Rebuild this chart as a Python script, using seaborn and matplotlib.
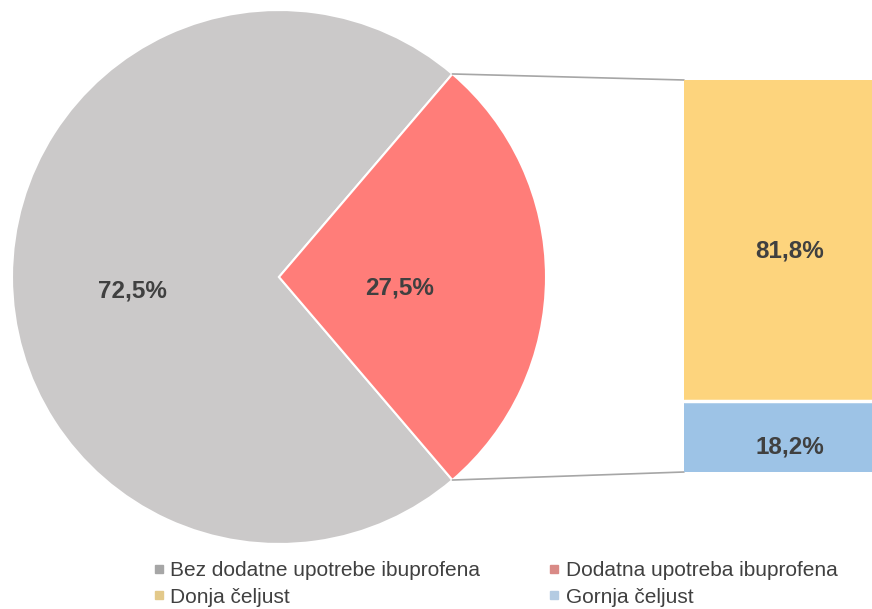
import numpy as np
import matplotlib
matplotlib.use("Agg")
import matplotlib.pyplot as plt
from matplotlib.lines import Line2D
import seaborn as sns

# ── Data ──────────────────────────────────────────────────────────────────────
pie_labels = ["Bez dodatne upotrebe ibuprofena", "Dodatna upotreba ibuprofena"]
pie_values = [72.5, 27.5]
bar_labels = ["Donja čeljust", "Gornja čeljust"]
bar_values = [81.8, 18.2]

# ── Style ─────────────────────────────────────────────────────────────────────
sns.set_style("white")
plt.rcParams["font.family"] = ["Liberation Sans", "DejaVu Sans"]

slice_colors = ["#cbc9c9", "#ff7d79"]
bar_colors = ["#fdd47d", "#9dc3e6"]
legend_colors = ["#a6a6a6", "#d98a86", "#e3c98a", "#b4cbe2"]
text_color = "#404040"

W, H = 872, 609
center = (279, 277)
radius = 267
bar_left, bar_top, bar_bottom, bar_w = 684, 80, 472, 212

fig = plt.figure(figsize=(W / 100, H / 100), dpi=100)
ax = fig.add_axes([0, 0, 1, 1])

# pie: red slice centred on the right-hand side
half = pie_values[1] / 100 * 360 / 2
wedges, _ = ax.pie(
    pie_values, colors=slice_colors, startangle=half, center=center, radius=radius,
    wedgeprops=dict(edgecolor="white", linewidth=1.5),
)
ax.set_xlim(0, W)
ax.set_ylim(H, 0)
ax.set_aspect("auto")
ax.axis("off")

# percentage labels inside slices
for w, val, dist, dy in zip(wedges, pie_values, [0.55, 0.45], [14, 11]):
    mid = np.deg2rad((w.theta1 + w.theta2) / 2)
    x = center[0] + dist * radius * np.cos(mid)
    y = center[1] + dist * radius * np.sin(mid) + dy
    ax.text(x, y, f"{val:.1f}%".replace(".", ","), ha="center", va="center",
            fontsize=17.5, fontweight="bold", color=text_color)

# connector lines from red slice to bar (y axis is inverted: theta1 is the upper edge)
red = wedges[1]
for theta, by in [(red.theta1, bar_top), (red.theta2, bar_bottom)]:
    t = np.deg2rad(theta)
    px = center[0] + radius * np.cos(t)
    py = center[1] + radius * np.sin(t)
    ax.plot([px, bar_left], [py, by], color="#a6a6a6", lw=1.2)

# ── Stacked bar ───────────────────────────────────────────────────────────────
bax = fig.add_axes([bar_left / W, (H - bar_bottom) / H, bar_w / W, (bar_bottom - bar_top) / H])
total = sum(bar_values)
sns.barplot(x=["čeljust"], y=[total], color=bar_colors[0], width=1, saturation=1,
            linewidth=0, ax=bax)
sns.barplot(x=["čeljust"], y=[bar_values[1]], color=bar_colors[1], width=1, saturation=1,
            linewidth=0, ax=bax)
bax.axhline(bar_values[1], color="white", lw=2.5)
bax.set_xlim(-0.5, 0.5)
bax.set_ylim(0, total)
bax.axis("off")

shift = 2.6  # labels sit a little below the segment centre
bax.text(0, bar_values[1] + bar_values[0] / 2 - shift, f"{bar_values[0]:.1f}%".replace(".", ","),
         ha="center", va="center", fontsize=17.5, fontweight="bold", color=text_color)
bax.text(0, bar_values[1] / 2 - shift, f"{bar_values[1]:.1f}%".replace(".", ","),
         ha="center", va="center", fontsize=17.5, fontweight="bold", color=text_color)

# ── Legend ────────────────────────────────────────────────────────────────────
labels = [pie_labels[0], bar_labels[0], pie_labels[1], bar_labels[1]]
cols = [legend_colors[0], legend_colors[2], legend_colors[1], legend_colors[3]]
handles = [Line2D([], [], marker="s", ls="", markersize=6, color=c) for c in cols]
leg = fig.legend(handles, labels, ncol=2, loc="center left",
                 bbox_to_anchor=(143 / W, 1 - 584 / H), frameon=False,
                 fontsize=15, handlelength=0.5, handletextpad=0.3,
                 columnspacing=3.3, labelspacing=0.36, borderpad=0)
for t in leg.get_texts():
    t.set_color(text_color)

fig.savefig("out.png", dpi=100)
